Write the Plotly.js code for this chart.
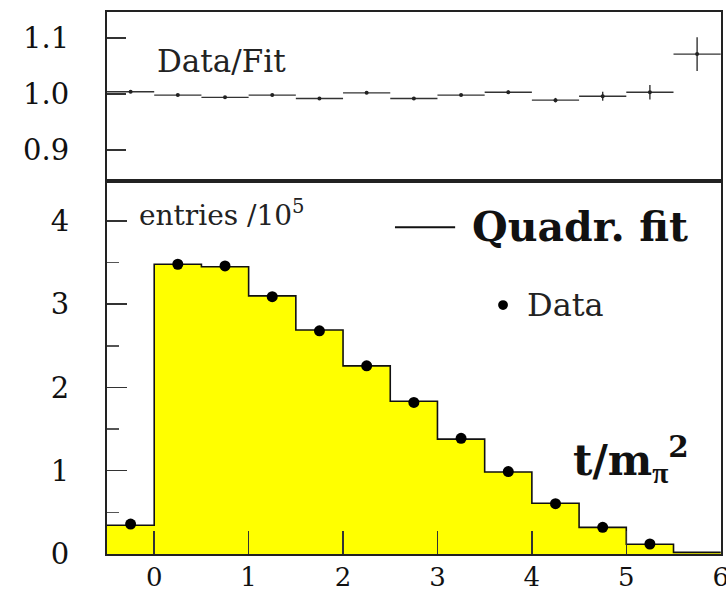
<!DOCTYPE html>
<html>
<head>
<meta charset="utf-8">
<script src="https://cdn.plot.ly/plotly-3.0.1.min.js"></script>
<style>html,body{margin:0;padding:0;background:#fff;}#chart{width:726px;height:592px;}</style>
</head>
<body>
<div id="chart"></div>
<script>
// bin centres (t / m_pi^2), bin width 0.5
const binCenters = [-0.25, 0.25, 0.75, 1.25, 1.75, 2.25, 2.75, 3.25, 3.75, 4.25, 4.75, 5.25, 5.75];
const binWidth = 0.5;
// quadratic fit (histogram), entries / 1e5
const fitValues = [0.345, 3.48, 3.45, 3.10, 2.69, 2.26, 1.835, 1.38, 0.985, 0.61, 0.32, 0.117, 0.02];
// data points, entries / 1e5
const dataCenters = [-0.25, 0.25, 0.75, 1.25, 1.75, 2.25, 2.75, 3.25, 3.75, 4.25, 4.75, 5.25];
const dataValues = [0.36, 3.48, 3.46, 3.09, 2.68, 2.26, 1.82, 1.39, 0.99, 0.605, 0.32, 0.12];
// Data / Fit ratio
const ratioValues = [1.004, 0.998, 0.994, 0.998, 0.992, 1.002, 0.992, 0.998, 1.003, 0.989, 0.996, 1.003, 1.071];
const ratioErrors = [0.002, 0.002, 0.002, 0.002, 0.002, 0.002, 0.002, 0.002, 0.003, 0.004, 0.008, 0.013, 0.03];
// tick values
const xTicks = [0, 1, 2, 3, 4, 5, 6];
const ratioTicks = [0.9, 1.0, 1.1];

// step outline of the fit histogram from bin edges
const edges = binCenters.map(c => c - binWidth / 2).concat([binCenters[binCenters.length - 1] + binWidth / 2]);
const stepY = fitValues.concat([fitValues[fitValues.length - 1]]);

const serif = 'DejaVu Serif, Liberation Serif, serif';

const traces = [
  {
    x: edges, y: stepY, type: 'scatter', mode: 'lines',
    line: {shape: 'hv', color: '#111', width: 1.6},
    fill: 'tozeroy', fillcolor: '#ffff00',
    xaxis: 'x', yaxis: 'y', showlegend: false, hoverinfo: 'skip'
  },
  {
    x: dataCenters, y: dataValues, type: 'scatter', mode: 'markers',
    marker: {color: '#000', size: 11},
    xaxis: 'x', yaxis: 'y', showlegend: false
  },
  {
    x: binCenters, y: ratioValues, type: 'scatter', mode: 'markers',
    marker: {color: '#222', size: 4},
    error_x: {type: 'constant', value: binWidth / 2, width: 0, thickness: 1.4, color: '#333'},
    error_y: {type: 'data', array: ratioErrors, width: 0, thickness: 1.4, color: '#333'},
    xaxis: 'x2', yaxis: 'y2', showlegend: false
  }
];

const axisCommon = {
  showline: true, mirror: true, linecolor: '#222', linewidth: 2,
  showgrid: false, zeroline: false, ticks: 'inside', tickcolor: '#333', tickwidth: 1.5
};

const layout = {
  width: 726, height: 592,
  margin: {l: 107, r: 5, t: 12, b: 38},
  paper_bgcolor: '#fff', plot_bgcolor: '#fff',
  font: {family: serif, color: '#111', size: 28},
  showlegend: false,
  xaxis: Object.assign({}, axisCommon, {
    domain: [0, 1], range: [-0.5, 6.003], anchor: 'y',
    tickvals: xTicks, ticklen: 23, ticklabeloverflow: 'allow',
    tickfont: {family: serif, size: 26, color: '#111'}, ticklabelstandoff: -1
  }),
  yaxis: Object.assign({}, axisCommon, {
    domain: [0, 0.6882], range: [0, 4.48], anchor: 'x',
    dtick: 1, tick0: 0, ticklen: 20,
    minor: {dtick: 0.5, ticklen: 12, ticks: 'inside', tickcolor: '#555', tickwidth: 1.5},
    tickfont: {family: serif, size: 29, color: '#111'}, ticklabelstandoff: 30
  }),
  xaxis2: Object.assign({}, axisCommon, {
    domain: [0, 1], range: [-0.5, 6.003], anchor: 'y2', matches: 'x',
    ticks: '', showticklabels: false
  }),
  yaxis2: Object.assign({}, axisCommon, {
    domain: [0.6882, 1], range: [0.845, 1.146], anchor: 'x2',
    tickvals: ratioTicks, tickformat: '.1f', ticklen: 19,
    tickfont: {family: serif, size: 29, color: '#111'}, ticklabelstandoff: 30
  }),
  shapes: [
    {type: 'line', xref: 'paper', yref: 'paper', x0: 0.469, x1: 0.567, y0: 0.603, y1: 0.603,
     line: {color: '#111', width: 2}},
    {type: 'circle', xref: 'paper', yref: 'paper', x0: 0.637, x1: 0.653, y0: 0.4504, y1: 0.4684,
     fillcolor: '#000', line: {color: '#000', width: 0}}
  ],
  annotations: [
    {text: 'Data/Fit', xref: 'paper', yref: 'paper', x: 0.078, y: 0.9096, xanchor: 'left', yanchor: 'middle',
     showarrow: false, font: {family: serif, size: 31, color: '#222'}},
    {text: 'entries /10<sup>5</sup>', xref: 'paper', yref: 'paper', x: 0.049, y: 0.629, xanchor: 'left', yanchor: 'middle',
     showarrow: false, font: {family: serif, size: 28, color: '#222'}},
    {text: '<b>Quadr. fit</b>', xref: 'paper', yref: 'paper', x: 0.591, y: 0.603, xanchor: 'left', yanchor: 'middle',
     showarrow: false, font: {family: serif, size: 41, color: '#111'}},
    {text: 'Data', xref: 'paper', yref: 'paper', x: 0.6808, y: 0.4594, xanchor: 'left', yanchor: 'middle',
     showarrow: false, font: {family: serif, size: 32, color: '#222'}},
    {text: '<b>t/m<sub><span style="font-family:Liberation Serif">π</span></sub><sup>2</sup></b>', xref: 'paper', yref: 'paper',
     x: 0.7557, y: 0.175, xanchor: 'left', yanchor: 'middle',
     showarrow: false, font: {family: serif, size: 42, color: '#111'}}
  ]
};

Plotly.newPlot('chart', traces, layout, {displayModeBar: false, staticPlot: true});
</script>
</body>
</html>
